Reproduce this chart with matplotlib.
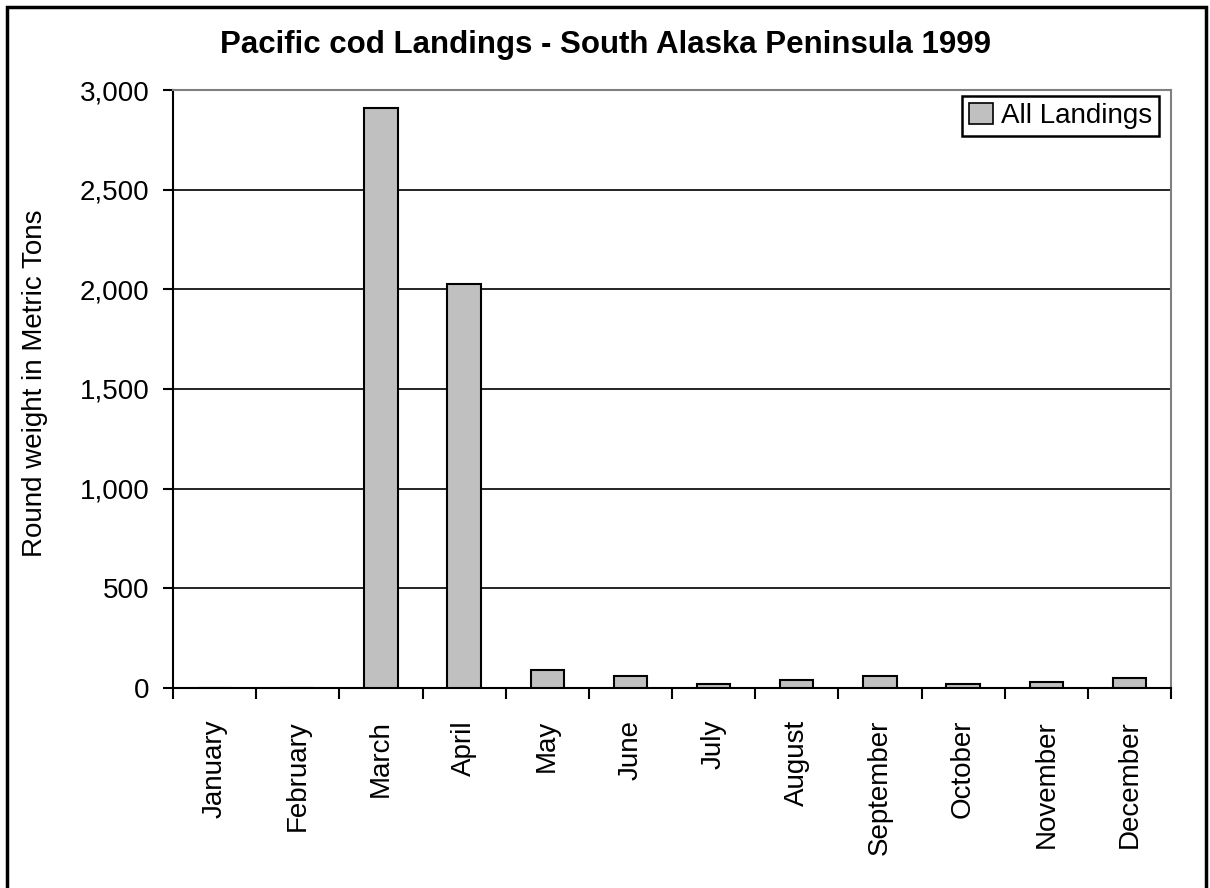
import matplotlib.pyplot as plt
import matplotlib.ticker as mticker
from matplotlib.patches import Rectangle, Patch

plt.rcParams['font.family'] = ['Liberation Sans', 'DejaVu Sans']

months = ['January', 'February', 'March', 'April', 'May', 'June', 'July',
          'August', 'September', 'October', 'November', 'December']
landings = [0, 0, 2912, 2027, 90, 62, 22, 42, 62, 22, 32, 52]

fig = plt.figure(figsize=(12.1, 8.88), dpi=100)
ax = fig.add_axes([173 / 1210, 200 / 888, 998 / 1210, 598 / 888])

# outer frame around the whole chart
fig.patches.append(Rectangle((7 / 1210, -0.01), 1199 / 1210, 1 - 7 / 888 + 0.01,
                             transform=fig.transFigure, fill=False,
                             edgecolor='black', linewidth=2.5))

x = list(range(len(months)))
ax.bar(x, landings, width=0.4, color='#c0c0c0', edgecolor='black',
       linewidth=1.5, zorder=3)

ax.set_xlim(-0.5, 11.5)
ax.set_ylim(0, 3000)
ax.yaxis.set_major_locator(mticker.MultipleLocator(500))
ax.yaxis.set_major_formatter(mticker.StrMethodFormatter('{x:,.0f}'))
ax.grid(axis='y', color='black', linewidth=1.2, zorder=0)

ax.set_xticks(x)
ax.set_xticklabels(months, rotation=90, fontsize=20)
ax.tick_params(axis='x', which='major', length=0, pad=23)
ax.set_xticks([i - 0.5 for i in range(13)], minor=True)
ax.tick_params(axis='x', which='minor', length=8, width=1.5, direction='out')
ax.tick_params(axis='y', labelsize=20, length=7, width=1.5, pad=10)

for side in ['top', 'right']:
    ax.spines[side].set_color('#808080')
    ax.spines[side].set_linewidth(1.5)
for side in ['left', 'bottom']:
    ax.spines[side].set_color('black')
    ax.spines[side].set_linewidth(1.5)

fig.text(35 / 1210, 1 - 383 / 888, 'Round weight in Metric Tons', rotation=90,
         ha='center', va='center', fontsize=20)
fig.text(0.5, 1 - 45 / 888, 'Pacific cod Landings - South Alaska Peninsula 1999',
         ha='center', va='center', fontsize=22.5, fontweight='bold')

handle = Patch(facecolor='#c0c0c0', edgecolor='black', linewidth=1.2)
leg = ax.legend([handle], ['All Landings'], loc='upper right',
                bbox_to_anchor=(0.988, 0.99), fontsize=20, fancybox=False,
                framealpha=1, edgecolor='black', handlelength=0.85,
                handleheight=0.8, handletextpad=0.3, borderpad=0.25,
                borderaxespad=0)
leg.get_frame().set_linewidth(1.8)

fig.savefig('out.png', dpi=100)
